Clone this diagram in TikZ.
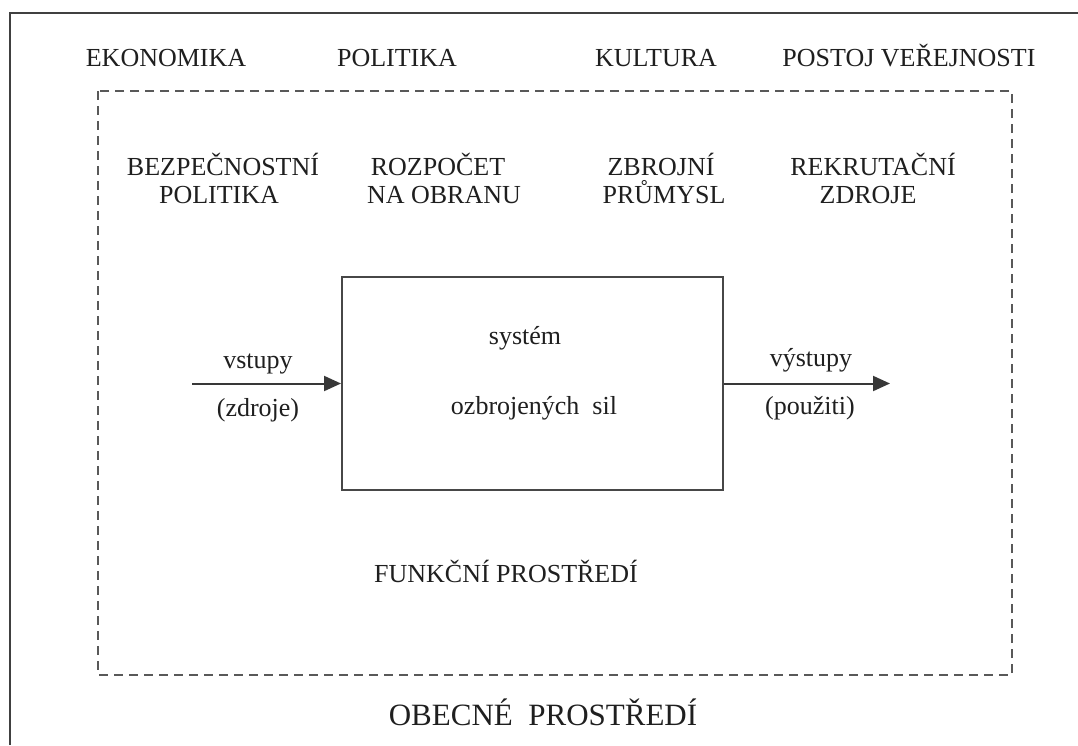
\documentclass[tikz,border=0pt]{standalone}
\usepackage{fontspec}
\setmainfont{Liberation Serif}
\usetikzlibrary{arrows.meta}
\begin{document}
\begin{tikzpicture}[x=1pt,y=-1pt,
  lbl/.style={anchor=base,inner sep=0pt,text=black!88,font=\fontsize{26}{28}\selectfont},
  biglbl/.style={lbl,font=\fontsize{31}{33}\selectfont},
  frameline/.style={draw=black!75,line width=2pt},
  envline/.style={draw=black!65,line width=2pt,dash pattern=on 9pt off 6pt},
  sysbox/.style={draw=black!72,line width=2pt,minimum width=381pt,minimum height=213pt,inner sep=0pt},
  flow/.style={draw=black!78,line width=2pt,-{Triangle[length=17pt,width=15pt]}}]
\useasboundingbox (0,0) rectangle (1078,745);
\fill[white] (0,0) rectangle (1078,745);

% outer frame (top and left edges)
\draw[frameline] (10,745) -- (10,13) -- (1078,13);

% general environment
\node[lbl] (ekon) at (166,66) {EKONOMIKA};
\node[lbl] (polit) at (397,66) {POLITIKA};
\node[lbl] (kult) at (656,66) {KULTURA};
\node[lbl] (postoj) at (909,66) {POSTOJ VEŘEJNOSTI};

% functional environment (dashed)
\draw[envline] (98,91) rectangle (1012,675);

\node[lbl] (bezp1) at (223,175) {BEZPEČNOSTNÍ};
\node[lbl] (bezp2) at (219,203) {POLITIKA};
\node[lbl] (rozp1) at (438,175) {ROZPOČET};
\node[lbl] (rozp2) at (444,203) {NA OBRANU};
\node[lbl] (zbr1) at (661,175) {ZBROJNÍ};
\node[lbl] (zbr2) at (664,203) {PRŮMYSL};
\node[lbl] (rekr1) at (873,175) {REKRUTAČNÍ};
\node[lbl] (rekr2) at (868,203) {ZDROJE};

% the system
\node[sysbox] (sys) at (532.5,383.5) {};
\node[lbl] (sys1) at (525,344) {systém};
\node[lbl] (sys2) at (534,414) {ozbrojených\ \ sil};

% inputs and outputs
\coordinate (src) at (192,383.5);
\coordinate (dst) at (890,383.5);
\draw[flow] (src) -- (sys.west);
\draw[flow] (sys.east) -- (dst);
\node[lbl] (inA) at (258,368) {vstupy};
\node[lbl] (inB) at (258,416) {(zdroje)};
\node[lbl] (outA) at (811,366) {výstupy};
\node[lbl] (outB) at (810,414) {(použiti)};

\node[lbl] (funk) at (506,582) {FUNKČNÍ PROSTŘEDÍ};
\node[biglbl] (obec) at (543,725) {OBECNÉ\ \ PROSTŘEDÍ};
\end{tikzpicture}
\end{document}
